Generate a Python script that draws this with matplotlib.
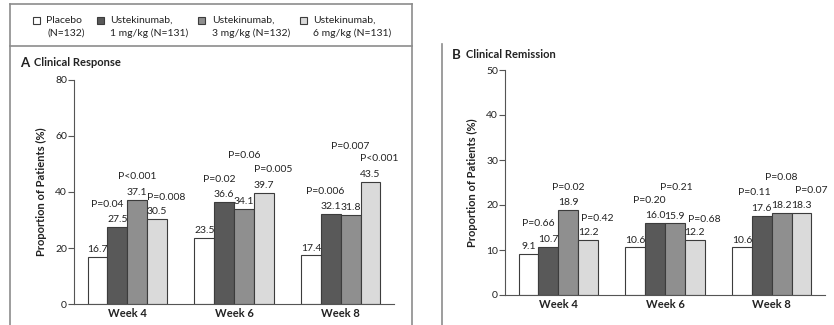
import matplotlib
matplotlib.use("Agg")
import matplotlib.pyplot as plt
from matplotlib.patches import Rectangle
from matplotlib.lines import Line2D
import numpy as np

plt.rcParams['font.family'] = ['Lato', 'DejaVu Sans']

# ---------------- data ----------------
weeks = ["Week 4", "Week 6", "Week 8"]
groups = ["Placebo\n(N=132)", "Ustekinumab,\n1 mg/kg (N=131)",
          "Ustekinumab,\n3 mg/kg (N=132)", "Ustekinumab,\n6 mg/kg (N=131)"]

response_placebo = [16.7, 23.5, 17.4]
response_1mg = [27.5, 36.6, 32.1]
response_3mg = [37.1, 34.1, 31.8]
response_6mg = [30.5, 39.7, 43.5]
response_p = [["P=0.04", "P<0.001", "P=0.008"],
              ["P=0.02", "P=0.06", "P=0.005"],
              ["P=0.006", "P=0.007", "P<0.001"]]

remission_placebo = [9.1, 10.6, 10.6]
remission_1mg = [10.7, 16.0, 17.6]
remission_3mg = [18.9, 15.9, 18.2]
remission_6mg = [12.2, 12.2, 18.3]
remission_p = [["P=0.66", "P=0.02", "P=0.42"],
               ["P=0.20", "P=0.21", "P=0.68"],
               ["P=0.11", "P=0.08", "P=0.07"]]

# ---------------- layout (label placement) ----------------
resp_p_y = [[35.4, 45.4, 38.2], [44.6, 52.9, 47.9], [40.0, 56.4, 51.8]]
resp_p_dx = [[-10, 0, 9], [-5, 0, 9], [-6, 0, 9]]
rem_p_y = [[16.0, 24.0, 17.1], [21.1, 24.0, 16.7], [22.7, 26.0, 23.3]]
rem_p_dx = [[-10, 0, 9], [-6, 1, 10], [-7, 0, 10]]

colors = ["#ffffff", "#595959", "#8f8f8f", "#dadada"]
edge = "#3c3c3c"
txt = "#222222"
W, H = 834, 325

fig = plt.figure(figsize=(W / 100, H / 100), dpi=100)


def fx(px):
    return px / W


def fy(py):
    return 1 - py / H


def panel(ax, series, pvals, p_y, p_dx, ymax, yticks):
    x = np.arange(len(weeks))
    w = 0.186
    offs = [-1.5, -0.5, 0.5, 1.5]
    ppu = ax.bbox.width / 3.0  # pixels per x unit
    for i, (vals, c) in enumerate(zip(series, colors)):
        bars = ax.bar(x + offs[i] * w, vals, w, color=c, edgecolor=edge, linewidth=0.8, zorder=2)
        for j, b in enumerate(bars):
            ax.annotate(f"{vals[j]:.1f}", (b.get_x() + b.get_width() / 2, vals[j]),
                        xytext=(0, 2), textcoords="offset points", ha="center", va="bottom",
                        fontsize=7.5, color=txt)
            if i > 0:
                ax.text(b.get_x() + b.get_width() / 2 + p_dx[j][i - 1] / ppu, p_y[j][i - 1],
                        pvals[j][i - 1], ha="center", va="center", fontsize=7.5, color=txt)
    ax.set_xlim(-0.5, 2.5)
    ax.set_ylim(0, ymax)
    ax.set_yticks(yticks)
    ax.set_xticks(x)
    ax.set_xticklabels(weeks, fontsize=8, fontweight="bold", color=txt)
    ax.tick_params(axis="x", length=0, pad=3)
    ax.tick_params(axis="y", length=4, width=0.8, color="#555555", labelsize=7.5,
                   labelcolor=txt, pad=1)
    for s in ["top", "right"]:
        ax.spines[s].set_visible(False)
    for s in ["left", "bottom"]:
        ax.spines[s].set_color("#555555")
        ax.spines[s].set_linewidth(0.8)
    ax.set_ylabel("Proportion of Patients (%)", fontsize=8, fontweight="bold", color=txt, labelpad=6)


axA = fig.add_axes([fx(74), fy(304), fx(394 - 74), (304 - 80) / H])
panel(axA, [response_placebo, response_1mg, response_3mg, response_6mg],
      response_p, resp_p_y, resp_p_dx, 80, [0, 20, 40, 60, 80])

axB = fig.add_axes([fx(505), fy(295), fx(825 - 505), (295 - 70) / H])
panel(axB, [remission_placebo, remission_1mg, remission_3mg, remission_6mg],
      remission_p, rem_p_y, rem_p_dx, 50, [0, 10, 20, 30, 40, 50])

# panel titles
fig.text(fx(20), fy(63), "A", fontsize=9.5, fontweight="bold", color=txt, va="center")
fig.text(fx(34), fy(63), "Clinical Response", fontsize=8, fontweight="bold", color=txt, va="center")
fig.text(fx(452), fy(55), "B", fontsize=9.5, fontweight="bold", color=txt, va="center")
fig.text(fx(466), fy(55), "Clinical Remission", fontsize=8, fontweight="bold", color=txt, va="center")

# frame lines
lc = "#8c8c8c"
for (x0, y0, x1, y1) in [(10, 4, 412, 4), (10, 4, 10, 325), (412, 4, 412, 325),
                         (10, 46, 412, 46), (441.5, 44, 441.5, 325)]:
    fig.add_artist(Line2D([fx(x0), fx(x1)], [fy(y0), fy(y1)], color=lc, lw=1.2,
                          transform=fig.transFigure))

# legend
sq_x = [33, 97, 198, 300]
tx_x = [46, 110, 212, 313]
for sx, tx, c, lab in zip(sq_x, tx_x, colors, groups):
    fig.add_artist(Rectangle((fx(sx), fy(24)), fx(7), 7 / H, facecolor=c, edgecolor=edge,
                             lw=0.8, transform=fig.transFigure))
    l1, l2 = lab.split("\n")
    fig.text(fx(tx), fy(20.5), l1, fontsize=7.5, color=txt, va="center")
    fig.text(fx(tx + (2 if l2.startswith("(") else 0)), fy(33), l2, fontsize=7.5, color=txt, va="center")

fig.savefig("out.png", dpi=100)
